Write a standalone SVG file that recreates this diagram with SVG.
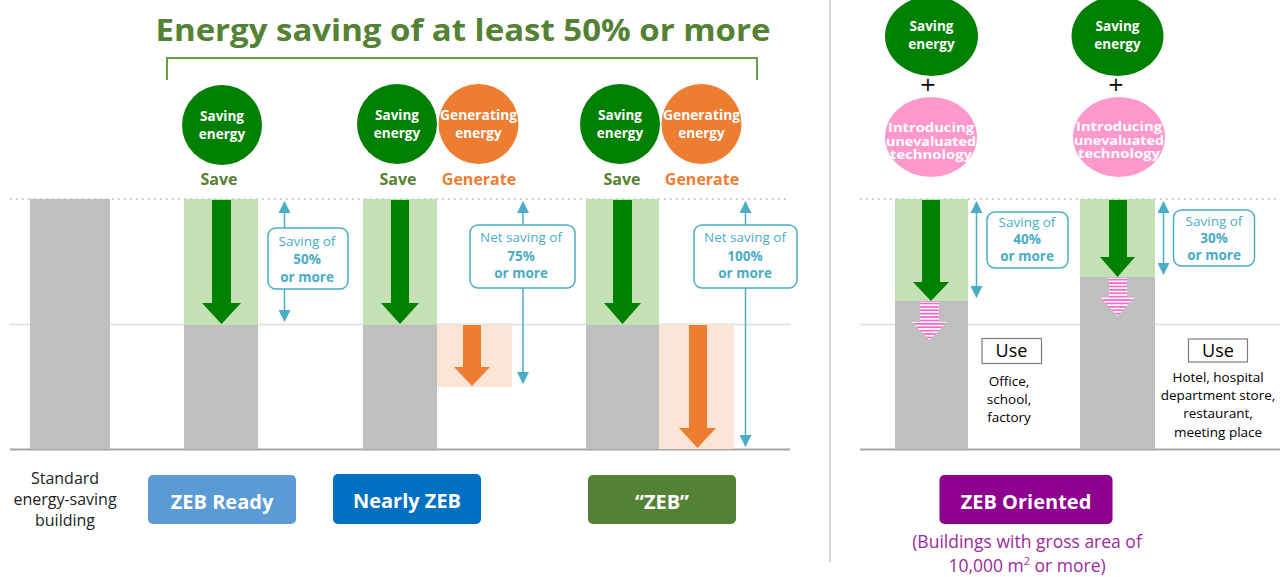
<svg xmlns="http://www.w3.org/2000/svg" width="1288" height="577" viewBox="0 0 1288 577">
<style>
  text { font-family: "Open Sans", "Noto Sans", "DejaVu Sans", sans-serif; }
  .title { font-size: 30px; font-weight: bold; fill: #548235; text-anchor: middle; }
  .ctext { font-size: 13.5px; font-weight: bold; fill: #ffffff; text-anchor: middle; }
  .ptext { font-size: 11.5px; font-weight: bold; fill: #ffffff; text-anchor: middle; }
  .save { font-size: 16px; font-weight: bold; fill: #548235; text-anchor: middle; }
  .gen { font-size: 16px; font-weight: bold; fill: #ed7d31; text-anchor: middle; }
  .btext { font-size: 13.5px; fill: #4bacc6; text-anchor: middle; }
  .bbold { font-weight: bold; }
  .cbox { fill: #ffffff; stroke: #4bacc6; stroke-width: 1.5; }
  .cyan { stroke: #4bacc6; stroke-width: 1.5; fill: none; }
  .bar { fill: #bfbfbf; }
  .lg { fill: #c5e0b4; }
  .lo { fill: #fbe5d6; }
  .garrow { fill: #008000; }
  .oarrow { fill: #ed7d31; }
  .parrow { fill: url(#stripes); }
  .label { font-size: 20px; font-weight: bold; fill: #ffffff; text-anchor: middle; }
  .plain { font-size: 16px; fill: #222222; text-anchor: middle; }
  .use { font-size: 18px; fill: #000000; text-anchor: middle; }
  .usetxt { font-size: 13.5px; fill: #000000; text-anchor: middle; }
  .sub { font-size: 17.5px; fill: #9c2a9c; text-anchor: middle; }
</style>
<defs>
  <marker id="ca" viewBox="0 0 12 12" refX="11" refY="6" markerWidth="12" markerHeight="12" markerUnits="userSpaceOnUse" orient="auto-start-reverse">
    <path d="M0,0 L12,6 L0,12 Z" fill="#4bacc6"/>
  </marker>
  <pattern id="stripes" patternUnits="userSpaceOnUse" width="4" height="3.4">
    <rect width="4" height="3.4" fill="#ffffff"/>
    <rect width="4" height="1.7" fill="#ff66cc"/>
  </pattern>
</defs>
<rect width="1288" height="577" fill="#ffffff"/>

<!-- Title and bracket -->
<g id="title">
  <text class="title" x="463" y="41" textLength="615" lengthAdjust="spacingAndGlyphs">Energy saving of at least 50% or more</text>
  <path d="M167,80 V58 H757 V80" fill="none" stroke="#6a9e45" stroke-width="2"/>
</g>

<!-- Axis lines -->
<g id="axes">
  <line x1="10" y1="199" x2="790" y2="199" stroke="#b0b0b0" stroke-width="1.5" stroke-dasharray="1.5 4.5"/>
  <line x1="10" y1="324.5" x2="790" y2="324.5" stroke="#e4e4e4" stroke-width="2"/>
  <line x1="10" y1="449.5" x2="790" y2="449.5" stroke="#a6a6a6" stroke-width="2"/>
  <line x1="860" y1="199" x2="1280" y2="199" stroke="#b0b0b0" stroke-width="1.5" stroke-dasharray="1.5 4.5"/>
  <line x1="860" y1="324.5" x2="1280" y2="324.5" stroke="#e4e4e4" stroke-width="2"/>
  <line x1="860" y1="449.5" x2="1280" y2="449.5" stroke="#a6a6a6" stroke-width="2"/>
  <line x1="830" y1="0" x2="830" y2="562" stroke="#c8c8c8" stroke-width="1.5"/>
</g>

<!-- Standard building -->
<g id="standard">
  <rect class="bar" x="30" y="199" width="80" height="250"/>
  <text class="plain" x="65" y="484">Standard</text>
  <text class="plain" x="65" y="505">energy-saving</text>
  <text class="plain" x="65" y="526">building</text>
</g>

<!-- ZEB Ready -->
<g id="zeb-ready">
  <circle cx="222" cy="125" r="40" fill="#008000"/>
  <text class="ctext" x="222" y="121">Saving</text>
  <text class="ctext" x="222" y="139">energy</text>
  <text class="save" x="219" y="185">Save</text>
  <rect class="lg" x="184" y="199" width="74" height="126"/>
  <rect class="bar" x="184" y="325" width="74" height="124"/>
  <polygon class="garrow" points="212,200 231,200 231,303 241,303 221.5,324 202,303 212,303"/>
  <rect x="148" y="475" width="148" height="49" rx="5" fill="#5b9bd5"/>
  <text class="label" x="222" y="509">ZEB Ready</text>
</g>

<!-- Nearly ZEB -->
<g id="nearly-zeb">
  <circle cx="397" cy="124" r="40" fill="#008000"/>
  <circle cx="478.5" cy="124" r="40" fill="#ed7d31"/>
  <text class="ctext" x="397" y="120">Saving</text>
  <text class="ctext" x="397" y="138">energy</text>
  <text class="ctext" x="478.5" y="120" textLength="77" lengthAdjust="spacingAndGlyphs">Generating</text>
  <text class="ctext" x="478.5" y="138">energy</text>
  <text class="save" x="398" y="185">Save</text>
  <text class="gen" x="479" y="185">Generate</text>
  <rect class="lg" x="363" y="199" width="74" height="126"/>
  <rect class="bar" x="363" y="325" width="74" height="124"/>
  <polygon class="garrow" points="391,200 409,200 409,303 419,303 400,324 381,303 391,303"/>
  <rect class="lo" x="437" y="325" width="75" height="62"/>
  <polygon class="oarrow" points="463,325 481,325 481,367 490,367 472,386 454,367 463,367"/>
  <rect x="333" y="474" width="148" height="50" rx="5" fill="#0070c0"/>
  <text class="label" x="407" y="508">Nearly ZEB</text>
</g>

<!-- ZEB -->
<g id="zeb">
  <circle cx="620" cy="124" r="40" fill="#008000"/>
  <circle cx="701.5" cy="124" r="40" fill="#ed7d31"/>
  <text class="ctext" x="620" y="120">Saving</text>
  <text class="ctext" x="620" y="138">energy</text>
  <text class="ctext" x="701.5" y="120" textLength="77" lengthAdjust="spacingAndGlyphs">Generating</text>
  <text class="ctext" x="701.5" y="138">energy</text>
  <text class="save" x="622" y="185">Save</text>
  <text class="gen" x="702" y="185">Generate</text>
  <rect class="lg" x="586" y="199" width="73" height="126"/>
  <rect class="bar" x="586" y="325" width="73" height="124"/>
  <polygon class="garrow" points="613,200 632,200 632,303 641,303 622.5,324 604,303 613,303"/>
  <rect class="lo" x="659" y="325" width="75" height="124"/>
  <polygon class="oarrow" points="689,325 707,325 707,428 716,428 697.5,448 679,428 689,428"/>
  <rect x="588" y="475" width="148" height="49" rx="5" fill="#548235"/>
  <text class="label" x="662" y="509">“ZEB”</text>
</g>

<!-- ZEB Oriented -->
<g id="zeb-oriented">
  <ellipse cx="931.5" cy="36" rx="46.5" ry="40" fill="#008000"/>
  <text class="ctext" x="931.5" y="31">Saving</text>
  <text class="ctext" x="931.5" y="49">energy</text>
  <text x="928" y="91" font-size="20" fill="#000000" text-anchor="middle" style="font-family:'DejaVu Sans',sans-serif">+</text>
  <ellipse cx="931" cy="137" rx="46" ry="40" fill="#ff99cc"/>
  <text class="ptext" x="931" y="132" textLength="86" lengthAdjust="spacingAndGlyphs">Introducing</text>
  <text class="ptext" x="931" y="145.5" textLength="90" lengthAdjust="spacingAndGlyphs">unevaluated</text>
  <text class="ptext" x="931" y="159" textLength="82" lengthAdjust="spacingAndGlyphs">technology</text>

  <ellipse cx="1117.5" cy="36" rx="46" ry="40" fill="#008000"/>
  <text class="ctext" x="1117.5" y="31">Saving</text>
  <text class="ctext" x="1117.5" y="49">energy</text>
  <text x="1116" y="91" font-size="20" fill="#000000" text-anchor="middle" style="font-family:'DejaVu Sans',sans-serif">+</text>
  <ellipse cx="1119" cy="137" rx="46" ry="40" fill="#ff99cc"/>
  <text class="ptext" x="1119" y="131" textLength="86" lengthAdjust="spacingAndGlyphs">Introducing</text>
  <text class="ptext" x="1119" y="144.5" textLength="90" lengthAdjust="spacingAndGlyphs">unevaluated</text>
  <text class="ptext" x="1119" y="158" textLength="82" lengthAdjust="spacingAndGlyphs">technology</text>

  <rect class="lg" x="895" y="199" width="73" height="102"/>
  <rect class="bar" x="895" y="301" width="73" height="148"/>
  <polygon class="garrow" points="922,200 940,200 940,282 949,282 931,301 913,282 922,282"/>
  <polygon class="parrow" points="920,302 939,302 939,322 947,322 929.5,340 912,322 920,322"/>

  <rect class="lg" x="1080" y="199" width="75" height="78"/>
  <rect class="bar" x="1080" y="277" width="75" height="172"/>
  <polygon class="garrow" points="1109,200 1127,200 1127,257 1135,257 1117.5,277 1100,257 1109,257"/>
  <polygon class="parrow" points="1109,278 1127,278 1127,297 1135,297 1117.5,316 1100,297 1109,297"/>

  <rect x="982" y="338.5" width="59.5" height="25" fill="#ffffff" stroke="#7f7f7f" stroke-width="1.2"/>
  <text class="use" x="1011.5" y="357">Use</text>
  <text class="usetxt" x="1009" y="386">Office,</text>
  <text class="usetxt" x="1009" y="404">school,</text>
  <text class="usetxt" x="1009" y="422">factory</text>

  <rect x="1188.5" y="339" width="59" height="23" fill="#ffffff" stroke="#7f7f7f" stroke-width="1.2"/>
  <text class="use" x="1218" y="356.5">Use</text>
  <text class="usetxt" x="1218" y="382">Hotel, hospital</text>
  <text class="usetxt" x="1218" y="400">department store,</text>
  <text class="usetxt" x="1218" y="418">restaurant,</text>
  <text class="usetxt" x="1218" y="437">meeting place</text>

  <rect x="939.5" y="475" width="173" height="49" rx="5" fill="#8e008e"/>
  <text class="label" x="1026" y="509">ZEB Oriented</text>
  <text class="sub" x="1027" y="548">(Buildings with gross area of</text>
  <text class="sub" x="1027" y="572">10,000 m<tspan font-size="11" dy="-7">2</tspan><tspan dy="7"> or more)</tspan></text>
</g>

<!-- Connectors: saving dimension arrows -->
<g id="connectors">
  <line class="cyan" x1="284.5" y1="321" x2="284.5" y2="202" marker-start="url(#ca)" marker-end="url(#ca)"/>
  <line class="cyan" x1="523" y1="383" x2="523" y2="202" marker-start="url(#ca)" marker-end="url(#ca)"/>
  <line class="cyan" x1="745.5" y1="446" x2="745.5" y2="202" marker-start="url(#ca)" marker-end="url(#ca)"/>
  <line class="cyan" x1="976.5" y1="297" x2="976.5" y2="202" marker-start="url(#ca)" marker-end="url(#ca)"/>
  <line class="cyan" x1="1163.5" y1="274" x2="1163.5" y2="202" marker-start="url(#ca)" marker-end="url(#ca)"/>
</g>

<!-- Dimension labels -->
<g id="label-50">
  <rect class="cbox" x="268" y="228" width="80" height="61" rx="8"/>
  <text class="btext" x="307" y="246">Saving of</text>
  <text class="btext bbold" x="307" y="264">50%</text>
  <text class="btext bbold" x="307" y="282">or more</text>
</g>
<g id="label-75">
  <rect class="cbox" x="470" y="225" width="105" height="63" rx="8"/>
  <text class="btext" x="521" y="242">Net saving of</text>
  <text class="btext bbold" x="521" y="261">75%</text>
  <text class="btext bbold" x="521" y="278">or more</text>
</g>
<g id="label-100">
  <rect class="cbox" x="694" y="225" width="103" height="63" rx="8"/>
  <text class="btext" x="745" y="242">Net saving of</text>
  <text class="btext bbold" x="745" y="261">100%</text>
  <text class="btext bbold" x="745" y="278">or more</text>
</g>
<g id="label-40">
  <rect class="cbox" x="987" y="212" width="81" height="56" rx="8"/>
  <text class="btext" x="1027" y="227">Saving of</text>
  <text class="btext bbold" x="1027" y="244">40%</text>
  <text class="btext bbold" x="1027" y="261">or more</text>
</g>
<g id="label-30">
  <rect class="cbox" x="1173.5" y="210" width="81" height="56" rx="8"/>
  <text class="btext" x="1214" y="226">Saving of</text>
  <text class="btext bbold" x="1214" y="242.5">30%</text>
  <text class="btext bbold" x="1214" y="259.5">or more</text>
</g>
</svg>
